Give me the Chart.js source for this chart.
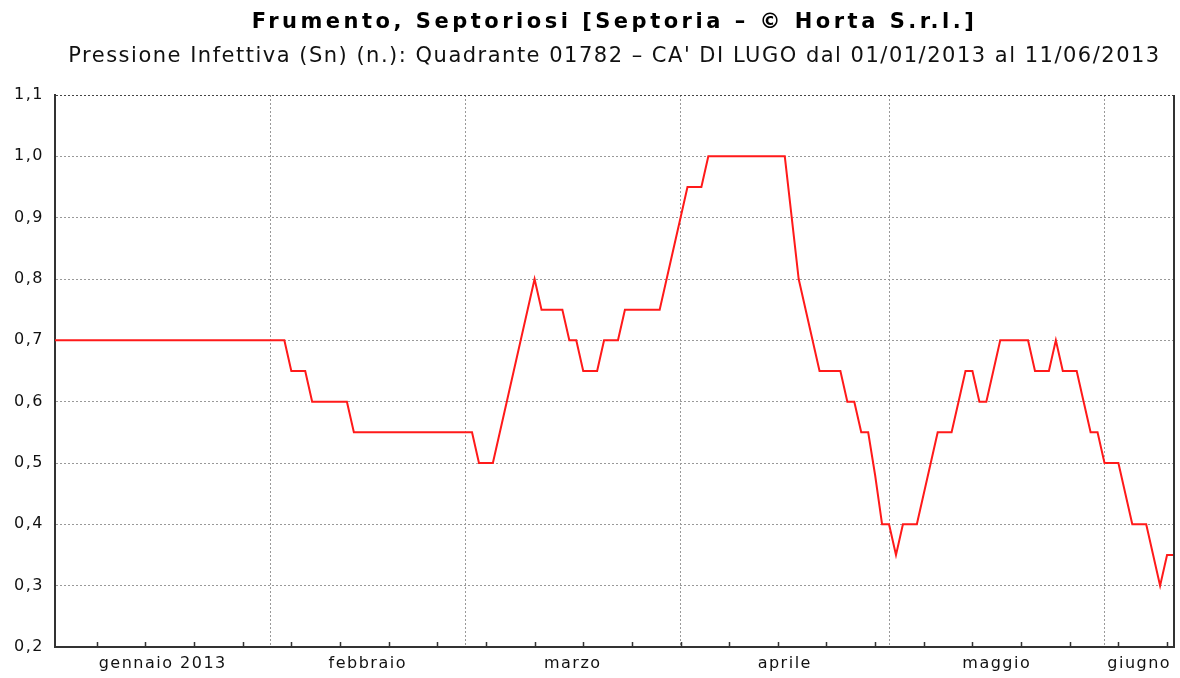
<!DOCTYPE html>
<html>
<head>
<meta charset="utf-8">
<script src="https://cdn.jsdelivr.net/npm/chart.js@4.4.1/dist/chart.umd.min.js"></script>
<style>
  html, body { margin: 0; padding: 0; background: #fff; }
  #wrap { width: 1180px; height: 678px; }
</style>
</head>
<body>
<div id="wrap"><canvas id="chart"></canvas></div>
<script>
// Day offsets from 01/01/2013 where the line changes direction, and the value there
const days = [0, 33, 34, 36, 37, 42, 43, 60, 61, 63, 65, 69, 70, 73, 74, 75, 76, 78, 79, 81, 82, 87, 88, 90, 91, 93, 94,
              105, 106, 107, 110, 113, 114, 115, 116, 117, 118, 119, 120, 121, 122, 124, 126, 127, 129, 130, 131, 132,
              133, 134, 136, 140, 141, 143, 144, 145, 147, 148, 149, 150, 151, 153, 155, 157, 159, 160, 161];
const values = [0.7, 0.7, 0.65, 0.65, 0.6, 0.6, 0.55, 0.55, 0.5, 0.5, 0.6, 0.8, 0.75, 0.75, 0.7, 0.7, 0.65, 0.65, 0.7, 0.7, 0.75, 0.75, 0.8, 0.9, 0.95, 0.95, 1.0,
                1.0, 0.9, 0.8, 0.65, 0.65, 0.6, 0.6, 0.55, 0.55, 0.48, 0.4, 0.4, 0.35, 0.4, 0.4, 0.5, 0.55, 0.55, 0.6, 0.65, 0.65,
                0.6, 0.6, 0.7, 0.7, 0.65, 0.65, 0.7, 0.65, 0.65, 0.6, 0.55, 0.55, 0.5, 0.5, 0.4, 0.4, 0.3, 0.35, 0.35];

// x axis: month boundaries (dotted gridlines) and month label positions
const monthStarts = [31, 59, 90, 120, 151];
const monthMids = [15.5, 45, 74.5, 105, 135.5, 156];
const monthLabels = ['gennaio 2013', 'febbraio', 'marzo', 'aprile', 'maggio', 'giugno'];
const firstMonday = 6;   // 07/01/2013
const lastDay = 161;     // 11/06/2013

const titleText = 'Frumento, Septoriosi [Septoria \u2013 \u00a9 Horta S.r.l.]';
const subtitleText = "Pressione Infettiva (Sn) (n.): Quadrante 01782 \u2013 CA' DI LUGO dal 01/01/2013 al 11/06/2013";

const points = days.map((d, i) => ({ x: d, y: values[i] }));

// wider letter spacing for the texts (title more, subtitle and ticks less)
const spacing = {
    id: 'spacing',
    beforeDraw(chart) {
        const t = chart.titleBlock;
        if (t && !t._spaced) {
            const orig = t.draw.bind(t);
            t.draw = function (area) {
                chart.ctx.letterSpacing = '3.5px';
                orig(area);
                chart.ctx.letterSpacing = '1.5px';
            };
            t._spaced = true;
        }
        chart.ctx.letterSpacing = '1.5px';
    },
    afterDatasetsDraw(chart) {
        chart.ctx.letterSpacing = '1.5px';
    },
    afterDraw(chart) {
        chart.ctx.letterSpacing = '0px';
    }
};

// draws the right border and the small weekly tick marks pointing inwards
const frameExtras = {
    id: 'frameExtras',
    afterDraw(chart) {
        const ctx = chart.ctx;
        const area = chart.chartArea;
        const x = chart.scales.x;
        ctx.save();
        ctx.strokeStyle = '#333';
        ctx.lineWidth = 2;
        ctx.beginPath();
        ctx.moveTo(area.right, area.top);
        ctx.lineTo(area.right, area.bottom);
        ctx.stroke();
        ctx.lineWidth = 1.5;
        ctx.beginPath();
        for (let d = firstMonday; d <= lastDay; d += 7) {
            const px = Math.round(x.getPixelForValue(d)) + 0.5;
            ctx.moveTo(px, area.bottom);
            ctx.lineTo(px, area.bottom - 5);
        }
        ctx.stroke();
        ctx.restore();
    }
};

new Chart(document.getElementById('chart'), {
    type: 'line',
    data: {
        datasets: [{
            data: points,
            borderColor: '#ff1a1a',
            borderWidth: 2,
            pointRadius: 0,
            tension: 0,
            fill: false
        }]
    },
    options: {
        responsive: true,
        maintainAspectRatio: false,
        animation: false,
        layout: { padding: { top: 4, right: 6, left: 8, bottom: 0 } },
        plugins: {
            legend: { display: false },
            tooltip: { enabled: false },
            title: {
                display: true,
                text: titleText,
                fullSize: false,
                color: '#000',
                font: { family: 'DejaVu Sans', size: 21, weight: 'bold' },
                padding: { top: 6, bottom: 5 }
            },
            subtitle: {
                display: true,
                text: subtitleText,
                fullSize: false,
                color: '#111',
                font: { family: 'DejaVu Sans', size: 21 },
                padding: { top: 4, bottom: 25.6 }
            }
        },
        scales: {
            x: {
                type: 'linear',
                min: 0,
                max: lastDay,
                afterBuildTicks: (scale) => {
                    scale.ticks = monthStarts.concat(monthMids)
                        .sort((a, b) => a - b)
                        .map(v => ({ value: v }));
                },
                afterFit: (scale) => { scale.height = 31; },
                ticks: {
                    autoSkip: false,
                    maxRotation: 0,
                    padding: 7,
                    z: 1,
                    color: '#111',
                    font: { family: 'DejaVu Sans', size: 16 },
                    callback: (v) => {
                        const i = monthMids.indexOf(v);
                        return i >= 0 ? monthLabels[i] : '';
                    }
                },
                grid: {
                    drawTicks: false,
                    lineWidth: 1,
                    color: (c) => (c.tick && monthStarts.includes(c.tick.value)) ? '#999' : 'rgba(0,0,0,0)'
                },
                border: { display: true, color: '#333', width: 2, dash: [2, 2] }
            },
            y: {
                min: 0.2,
                max: 1.1,
                afterFit: (scale) => { scale.width = 47; },
                ticks: {
                    stepSize: 0.1,
                    padding: 11,
                    z: 1,
                    color: '#111',
                    font: { family: 'DejaVu Sans', size: 16 },
                    callback: (v) => v.toFixed(1).replace('.', ',')
                },
                grid: {
                    drawTicks: false,
                    lineWidth: 1,
                    color: (c) => (c.tick && Math.abs(c.tick.value - 1.1) < 1e-6) ? '#444' : '#999'
                },
                border: { display: true, color: '#333', width: 2, dash: [2, 2] }
            }
        }
    },
    plugins: [spacing, frameExtras]
});
</script>
</body>
</html>
